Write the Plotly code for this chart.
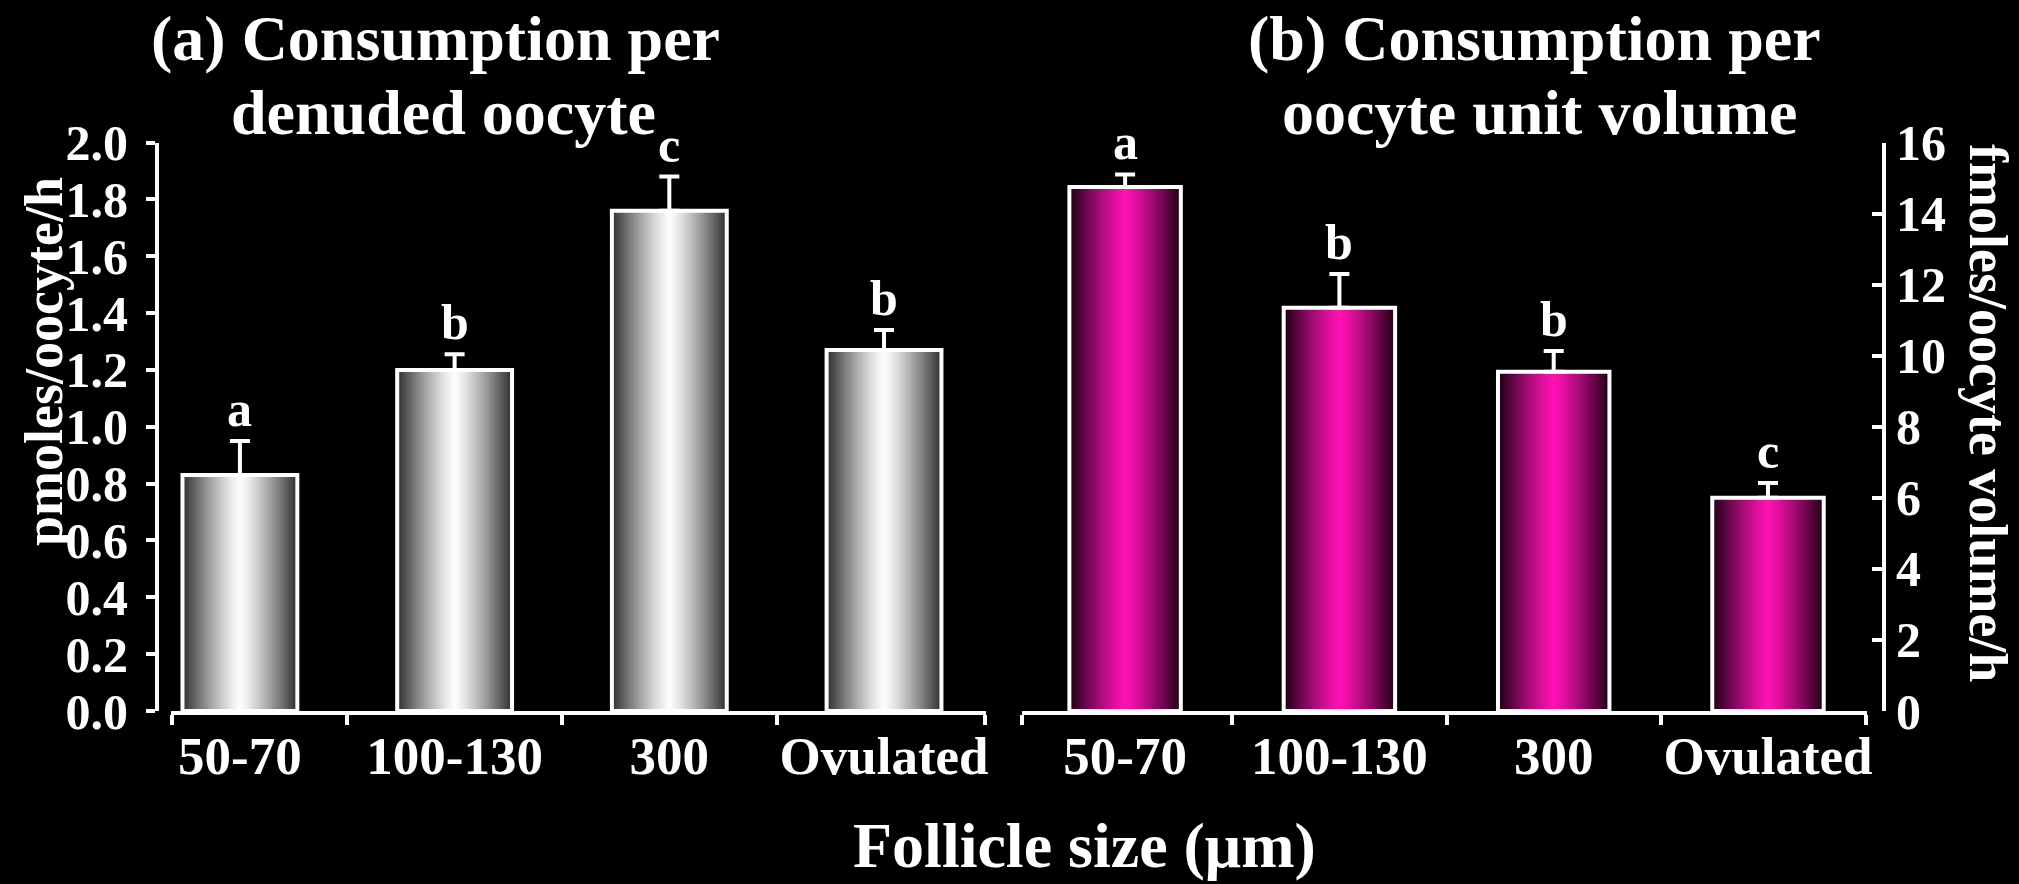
import plotly.graph_objects as go

# ---- data -------------------------------------------------------------
categories = ["50-70", "100-130", "300", "Ovulated"]

per_oocyte = [0.83, 1.20, 1.76, 1.27]            # pmoles/oocyte/h
per_oocyte_err = [0.12, 0.055, 0.12, 0.07]
per_oocyte_letters = ["a", "b", "c", "b"]

per_volume = [14.75, 11.35, 9.55, 6.0]           # fmoles/oocyte volume/h
per_volume_err = [0.35, 0.95, 0.58, 0.42]
per_volume_letters = ["a", "b", "b", "c"]

left_tickvals = [0.0, 0.2, 0.4, 0.6, 0.8, 1.0, 1.2, 1.4, 1.6, 1.8, 2.0]
left_ticktext = ["0.0", "0.2", "0.4", "0.6", "0.8", "1.0", "1.2", "1.4", "1.6", "1.8", "2.0"]
right_tickvals = [0, 2, 4, 6, 8, 10, 12, 14, 16]
right_ticktext = ["0", "2", "4", "6", "8", "10", "12", "14", "16"]

# ---- page geometry (pixels) --------------------------------------------
W, H = 2019, 884
FONT = "Liberation Serif, Times New Roman, serif"


def fx(px):
    return px / W


def fy(py):
    return 1 - py / H


x_pos = list(range(len(categories)))

fig = go.Figure()


def shaded_bars(values, errs, xa, ya, width, edge, center, layers=30, power=1.25):
    """Cylinder-like shading: overlay progressively narrower, lighter bars."""
    for k in range(layers):
        d = 1 - k / layers
        t = d ** power
        col = tuple(round(center[i] + (edge[i] - center[i]) * t) for i in range(3))
        fig.add_trace(go.Bar(
            x=x_pos, y=values, width=width * d,
            marker=dict(color="rgb(%d,%d,%d)" % col, line=dict(width=0)),
            xaxis=xa, yaxis=ya, showlegend=False, hoverinfo="skip",
        ))
    # outline and upper error bar on top
    fig.add_trace(go.Bar(
        x=x_pos, y=values, width=width,
        marker=dict(color="rgba(0,0,0,0)", line=dict(color="white", width=4)),
        error_y=dict(type="data", array=errs, arrayminus=[0] * len(errs),
                     symmetric=False, color="white", thickness=4, width=10),
        xaxis=xa, yaxis=ya, showlegend=False, hoverinfo="skip",
    ))


shaded_bars(per_oocyte, per_oocyte_err, "x", "y", 0.535, (50, 50, 50), (255, 255, 255))
shaded_bars(per_volume, per_volume_err, "x2", "y2", 0.52, (32, 0, 22), (255, 18, 180))

letter_font = dict(family=FONT, size=50, color="white", weight="bold")
annotations = []
for i, (v, e, s) in enumerate(zip(per_oocyte, per_oocyte_err, per_oocyte_letters)):
    annotations.append(dict(x=i, y=v + e, xref="x", yref="y", text=s, showarrow=False,
                            yanchor="bottom", yshift=2, font=letter_font))
for i, (v, e, s) in enumerate(zip(per_volume, per_volume_err, per_volume_letters)):
    annotations.append(dict(x=i, y=v + e, xref="x2", yref="y2", text=s, showarrow=False,
                            yanchor="bottom", yshift=2, font=letter_font))

title_font = dict(family=FONT, size=64, color="white", weight="bold")
for text, x, y in [("(a) Consumption per", 435, 39), ("denuded oocyte", 443, 113),
                   ("(b) Consumption per", 1534, 39), ("oocyte unit volume", 1540, 113)]:
    annotations.append(dict(x=fx(x), y=fy(y), xref="paper", yref="paper", text=text,
                            showarrow=False, xanchor="center", yanchor="middle",
                            font=title_font))

annotations.append(dict(x=fx(1084), y=fy(845), xref="paper", yref="paper",
                        text="Follicle size (μm)", showarrow=False,
                        xanchor="center", yanchor="middle", font=title_font))
annotations.append(dict(x=fx(44), y=fy(362), xref="paper", yref="paper",
                        text="pmoles/oocyte/h", textangle=-90, showarrow=False,
                        xanchor="center", yanchor="middle",
                        font=dict(family=FONT, size=54, color="white", weight="bold")))
annotations.append(dict(x=fx(1988), y=fy(413), xref="paper", yref="paper",
                        text="fmoles/oocyte volume/h", textangle=90, showarrow=False,
                        xanchor="center", yanchor="middle",
                        font=dict(family=FONT, size=54, color="white", weight="bold")))

tick_font = dict(family=FONT, size=50, color="white", weight="bold")
cat_font = dict(family=FONT, size=53, color="white", weight="bold")
y_dom = [fy(711), fy(142.5)]

left_range = [-0.321, 3.475]
right_range = [-0.483, 3.462]

common_x = dict(showgrid=False, zeroline=False, showline=True, linecolor="white",
                linewidth=4, ticks="", tickvals=x_pos, ticktext=categories,
                tickfont=cat_font, automargin=False, fixedrange=True)

fig.update_layout(
    width=W, height=H, autosize=False,
    margin=dict(l=0, r=0, t=0, b=0),
    paper_bgcolor="black", plot_bgcolor="black",
    barmode="overlay",
    xaxis=dict(common_x, domain=[fx(171), fx(986)], range=left_range, anchor="y",
               ticklabelstandoff=-5,
               minor=dict(tickvals=[left_range[0] + 0.004, 0.5, 1.5, 2.5, left_range[1] - 0.004],
                          ticks="outside", ticklen=10, tickwidth=4, tickcolor="white")),
    xaxis2=dict(common_x, domain=[fx(1021.6), fx(1867)], range=right_range, anchor="y2",
                ticklabelstandoff=-5,
                minor=dict(tickvals=[right_range[0] + 0.004, 0.5, 1.5, 2.5, right_range[1] - 0.004],
                           ticks="outside", ticklen=10, tickwidth=4, tickcolor="white")),
    yaxis=dict(domain=y_dom, range=[0, 2.0], anchor="free", position=fx(157),
               showgrid=False, zeroline=False, showline=True, linecolor="white", linewidth=4,
               ticks="outside", ticklen=9, tickwidth=4, tickcolor="white",
               tickvals=left_tickvals, ticktext=left_ticktext, tickfont=tick_font,
               ticklabelstandoff=8, automargin=False, fixedrange=True),
    yaxis2=dict(domain=y_dom, range=[0, 16], anchor="free", position=fx(1884), side="right",
                showgrid=False, zeroline=False, showline=True, linecolor="white", linewidth=4,
                ticks="inside", ticklen=10, tickwidth=4, tickcolor="white",
                tickvals=right_tickvals, ticktext=right_ticktext, tickfont=tick_font,
                ticklabelstandoff=0, automargin=False, fixedrange=True),
    annotations=annotations,
)

fig.write_html("out.html")
